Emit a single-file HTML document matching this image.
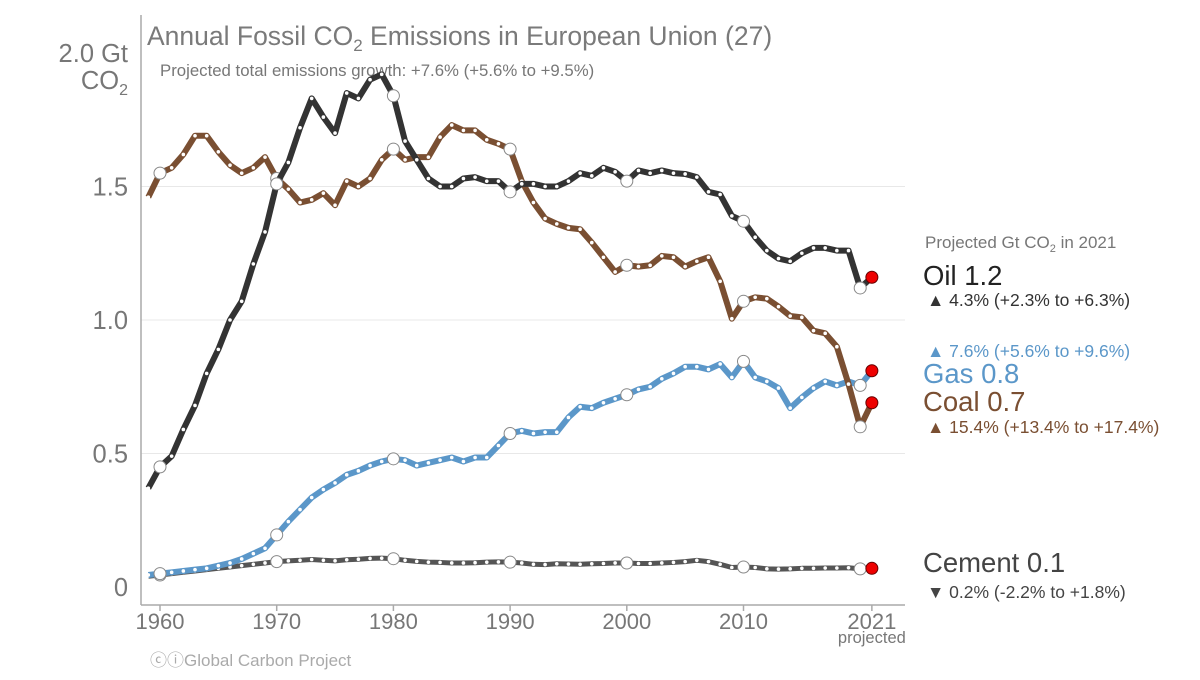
<!DOCTYPE html>
<html><head><meta charset="utf-8"><style>
body{margin:0;background:#fff;font-family:"Liberation Sans",sans-serif}
svg text{font-family:"Liberation Sans",sans-serif}
</style></head><body>
<svg id="chart" width="1200" height="675" xmlns="http://www.w3.org/2000/svg">
<text x="147" y="45" font-size="26.5" fill="#7a7a7a">Annual Fossil CO<tspan font-size="17" dy="6">2</tspan><tspan dy="-6"> Emissions in European Union (27)</tspan></text>
<text x="160" y="76" font-size="16.8" fill="#777">Projected total emissions growth: +7.6% (+5.6% to +9.5%)</text>
<g id="grid"></g>
<g id="axes"></g>
<g id="series"></g>
<g id="labels">
<text x="925" y="248" font-size="17" fill="#777">Projected Gt CO<tspan font-size="11" dy="4">2</tspan><tspan dy="-4"> in 2021</tspan></text>
<text x="923" y="285" font-size="27.5" fill="#222">Oil 1.2</text>
<text x="927" y="306" font-size="17.5" fill="#333">▲ 4.3% (+2.3% to +6.3%)</text>
<text x="927" y="357" font-size="17.5" fill="#5b97c9">▲ 7.6% (+5.6% to +9.6%)</text>
<text x="923" y="383" font-size="27.5" fill="#5b97c9">Gas 0.8</text>
<text x="923" y="411" font-size="27.5" fill="#7a4f32">Coal 0.7</text>
<text x="927" y="433" font-size="17.5" fill="#7a4f32">▲ 15.4% (+13.4% to +17.4%)</text>
<text x="923" y="572" font-size="27.5" fill="#444">Cement 0.1</text>
<text x="927" y="598" font-size="17.5" fill="#444">▼ 0.2% (-2.2% to +1.8%)</text>
<text x="150" y="666" font-size="17" fill="#aaa">ⓒⓘGlobal Carbon Project</text>
</g>
</svg>
<script>
const years=[];for(let y=1959;y<=2021;y++)years.push(y);
const oil=[0.37,0.45,0.49,0.59,0.68,0.80,0.89,1.0,1.07,1.21,1.33,1.51,1.59,1.72,1.83,1.76,1.70,1.85,1.83,1.90,1.92,1.84,1.67,1.60,1.53,1.50,1.50,1.53,1.535,1.52,1.52,1.48,1.51,1.51,1.50,1.50,1.52,1.55,1.54,1.57,1.555,1.52,1.56,1.55,1.56,1.55,1.547,1.535,1.48,1.47,1.39,1.37,1.31,1.26,1.23,1.22,1.25,1.27,1.27,1.26,1.26,1.12,1.16];
const coal=[1.46,1.55,1.57,1.62,1.69,1.69,1.63,1.58,1.55,1.57,1.61,1.53,1.49,1.44,1.45,1.475,1.43,1.52,1.50,1.53,1.60,1.64,1.60,1.61,1.61,1.685,1.73,1.71,1.71,1.675,1.66,1.64,1.52,1.44,1.38,1.36,1.345,1.34,1.29,1.235,1.18,1.205,1.20,1.205,1.24,1.235,1.20,1.22,1.235,1.145,1.005,1.07,1.085,1.08,1.05,1.015,1.01,0.96,0.95,0.90,0.76,0.60,0.69];
const gas=[0.045,0.05,0.055,0.06,0.065,0.07,0.08,0.09,0.105,0.125,0.145,0.195,0.245,0.29,0.335,0.365,0.39,0.42,0.435,0.455,0.47,0.48,0.475,0.455,0.465,0.475,0.485,0.47,0.485,0.485,0.53,0.575,0.585,0.575,0.58,0.58,0.635,0.675,0.67,0.69,0.705,0.72,0.74,0.75,0.78,0.80,0.825,0.825,0.815,0.835,0.785,0.845,0.785,0.77,0.745,0.67,0.71,0.745,0.77,0.755,0.77,0.755,0.81];
const cement=[0.04,0.045,0.05,0.055,0.06,0.065,0.07,0.075,0.08,0.085,0.09,0.095,0.098,0.10,0.103,0.10,0.098,0.102,0.104,0.107,0.108,0.106,0.10,0.096,0.093,0.092,0.09,0.09,0.091,0.093,0.094,0.093,0.09,0.085,0.084,0.087,0.086,0.085,0.087,0.088,0.09,0.09,0.088,0.088,0.09,0.092,0.095,0.1,0.095,0.085,0.073,0.075,0.073,0.068,0.067,0.068,0.07,0.07,0.071,0.071,0.072,0.068,0.07];
const yTicks=[0,0.5,1.0,1.5,2.0];
const yTickLabels=["0","0.5","1.0","1.5","2.0 Gt"];
const xTicks=[1960,1970,1980,1990,2000,2010,2021];
const NS="http://www.w3.org/2000/svg";
const X=yr=>160+(yr-1960)*11.67;
const Y=v=>587-v*267;
function mk(tag,attrs,parent){const e=document.createElementNS(NS,tag);for(const k in attrs)e.setAttribute(k,attrs[k]);parent.appendChild(e);return e;}
const grid=document.getElementById('grid'),axes=document.getElementById('axes'),ser=document.getElementById('series');
yTicks.forEach((t,i)=>{
 if(t>0&&t<2){const l=mk('line',{x1:141,x2:905,y1:Y(t),y2:Y(t),stroke:'#e8e8e8','stroke-width':1},grid);
 
 }
 const tx=mk('text',{x:128,y:Y(t)+9,'font-size':25.5,fill:'#777','text-anchor':'end'},axes);
 tx.textContent=yTickLabels[i];
 
 
});
const co=mk('text',{x:128,y:Y(2.0)+36,'font-size':25.5,fill:'#777','text-anchor':'end'},axes);
co.innerHTML='CO<tspan font-size="16" dy="6">2</tspan>';


const ya=mk('line',{x1:141,x2:141,y1:15,y2:605,stroke:'#aaa','stroke-width':1.5},axes);


const xa=mk('line',{x1:141,x2:905,y1:605,y2:605,stroke:'#aaa','stroke-width':1.5},axes);


xTicks.forEach(t=>{
 const tk=mk('line',{x1:X(t),x2:X(t),y1:605,y2:611,stroke:'#aaa','stroke-width':1.5},axes);
 
 
 const tx=mk('text',{x:X(t),y:629,'font-size':22,fill:'#777','text-anchor':'middle'},axes);
 tx.textContent=t;
 
 
});
const pj=mk('text',{x:X(2021),y:643,'font-size':16.5,fill:'#777','text-anchor':'middle'},axes);
pj.textContent='projected';


function drawSeries(vals,color,w,name){
 const g=mk('g',{},ser);
 
 
 const pts=vals.map((v,i)=>X(years[i])+','+Y(v)).join(' ');
 const pl=mk('polyline',{points:pts,fill:'none',stroke:color,'stroke-width':w,'stroke-linejoin':'round'},g);
 
 
 vals.forEach((v,i)=>{
  const yr=years[i];let c;
  if(yr===2021){c=mk('circle',{cx:X(yr),cy:Y(v),r:6,fill:'#e00',stroke:'#600','stroke-width':1},g);}
  else if(yr%10===0){c=mk('circle',{cx:X(yr),cy:Y(v),r:6,fill:'#fff',stroke:'#888','stroke-width':1},g);}
  else{c=mk('circle',{cx:X(yr),cy:Y(v),r:1.8,fill:'#fff'},g);}
  
  
 });
}
drawSeries(cement,'#555',5,'cement');
drawSeries(gas,'#5b97c9',6,'gas');
drawSeries(coal,'#7a4f32',6,'coal');
drawSeries(oil,'#333',6,'oil');
</script>
</body></html>
